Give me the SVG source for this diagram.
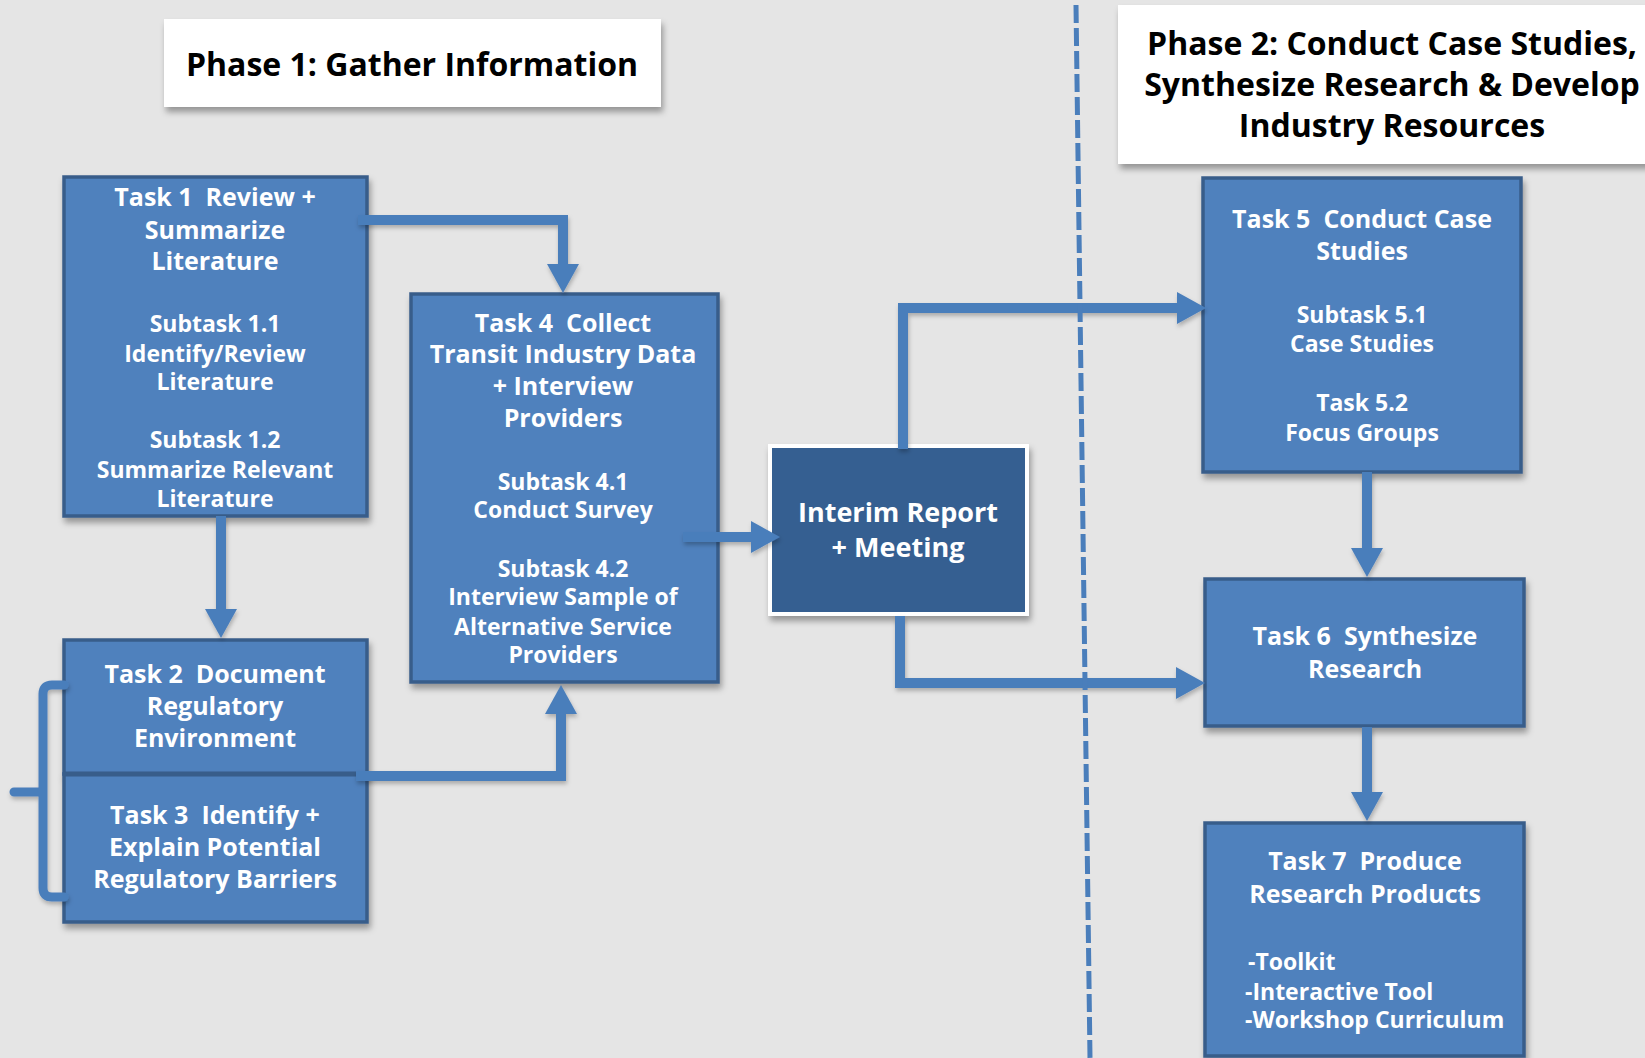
<svg xmlns="http://www.w3.org/2000/svg" width="1645" height="1058" viewBox="0 0 1645 1058">
<style>
.bg{fill:#e5e5e5}
.phase{fill:#ffffff}
.box{fill:#4f81bd;stroke:#385d8a;stroke-width:3.5}
.dark{fill:#365f91;stroke:#ffffff;stroke-width:4}
text{font-family:"Open Sans","Noto Sans","Liberation Sans",sans-serif;font-weight:bold;text-anchor:middle}
.pt{font-size:32px;fill:#000000}
.t{font-size:25px;fill:#ffffff}
.s{font-size:23px;fill:#ffffff}
.big{font-size:27px;fill:#ffffff}
.l{text-anchor:start}
.conn{fill:none;stroke:#4a7ebb;stroke-width:10;stroke-linejoin:miter}
.brace{fill:none;stroke:#4a7ebb;stroke-width:9;stroke-linecap:round;stroke-linejoin:round}
.divider{fill:none;stroke:#4a7ebb;stroke-width:5;stroke-dasharray:18 5}
</style>
<defs>
<filter id="sh" x="-10%" y="-10%" width="130%" height="130%">
<feDropShadow dx="2" dy="5" stdDeviation="3" flood-color="#000000" flood-opacity="0.35"/>
</filter>
<filter id="shl" x="-10%" y="-10%" width="130%" height="130%">
<feDropShadow dx="1" dy="3" stdDeviation="2" flood-color="#000000" flood-opacity="0.25"/>
</filter>
<marker id="ah" markerUnits="userSpaceOnUse" markerWidth="30" markerHeight="32" refX="1" refY="16" orient="auto" overflow="visible">
<path d="M0,0 L29,16 L0,32 Z" fill="#4a7ebb"/>
</marker>
</defs>
<rect class="bg" x="0" y="0" width="1645" height="1058"/>

<g id="phase1">
<rect class="phase" x="164" y="19" width="497" height="88" filter="url(#sh)"/>
<text class="pt" x="412" y="76">Phase 1: Gather Information</text>
</g>

<g id="phase2">
<rect class="phase" x="1118" y="5" width="540" height="159" filter="url(#sh)"/>
<text class="pt" x="1392" y="55">Phase 2: Conduct Case Studies,</text>
<text class="pt" x="1392" y="96">Synthesize Research &amp; Develop</text>
<text class="pt" x="1392" y="137">Industry Resources</text>
</g>

<g id="task1">
<rect class="box" x="64" y="177" width="303" height="339" filter="url(#sh)"/>
<text class="t" x="215" y="206" xml:space="preserve">Task 1  Review +</text>
<text class="t" x="215" y="239">Summarize</text>
<text class="t" x="215" y="270">Literature</text>
<text class="s" x="215" y="332">Subtask 1.1</text>
<text class="s" x="215" y="362">Identify/Review</text>
<text class="s" x="215" y="390">Literature</text>
<text class="s" x="215" y="448">Subtask 1.2</text>
<text class="s" x="215" y="478">Summarize Relevant</text>
<text class="s" x="215" y="507">Literature</text>
</g>

<g id="task2">
<rect class="box" x="64" y="640" width="303" height="134" filter="url(#sh)"/>
<text class="t" x="215" y="683" xml:space="preserve">Task 2  Document</text>
<text class="t" x="215" y="715">Regulatory</text>
<text class="t" x="215" y="747">Environment</text>
</g>

<g id="task3">
<rect class="box" x="64" y="774" width="303" height="148" filter="url(#sh)"/>
<line x1="64" y1="774" x2="367" y2="774" stroke="#385d8a" stroke-width="5"/>
<text class="t" x="215" y="824" xml:space="preserve">Task 3  Identify +</text>
<text class="t" x="215" y="856">Explain Potential</text>
<text class="t" x="215" y="888">Regulatory Barriers</text>
</g>

<g id="task4">
<rect class="box" x="411" y="294" width="307" height="388" filter="url(#sh)"/>
<text class="t" x="563" y="332" xml:space="preserve">Task 4  Collect</text>
<text class="t" x="563" y="363">Transit Industry Data</text>
<text class="t" x="563" y="395">+ Interview</text>
<text class="t" x="563" y="427">Providers</text>
<text class="s" x="563" y="490">Subtask 4.1</text>
<text class="s" x="563" y="518">Conduct Survey</text>
<text class="s" x="563" y="577">Subtask 4.2</text>
<text class="s" x="563" y="605">Interview Sample of</text>
<text class="s" x="563" y="635">Alternative Service</text>
<text class="s" x="563" y="663">Providers</text>
</g>

<g id="interim">
<rect class="dark" x="770" y="446" width="257" height="168" filter="url(#sh)"/>
<text class="big" x="898" y="522">Interim Report</text>
<text class="big" x="898" y="557">+ Meeting</text>
</g>

<g id="task5">
<rect class="box" x="1203" y="178" width="318" height="294" filter="url(#sh)"/>
<text class="t" x="1362" y="228" xml:space="preserve">Task 5  Conduct Case</text>
<text class="t" x="1362" y="260">Studies</text>
<text class="s" x="1362" y="323">Subtask 5.1</text>
<text class="s" x="1362" y="352">Case Studies</text>
<text class="s" x="1362" y="411">Task 5.2</text>
<text class="s" x="1362" y="441">Focus Groups</text>
</g>

<g id="task6">
<rect class="box" x="1205" y="579" width="319" height="147" filter="url(#sh)"/>
<text class="t" x="1365" y="645" xml:space="preserve">Task 6  Synthesize</text>
<text class="t" x="1365" y="678">Research</text>
</g>

<g id="task7">
<rect class="box" x="1205" y="823" width="319" height="233" filter="url(#sh)"/>
<text class="t" x="1365" y="870" xml:space="preserve">Task 7  Produce</text>
<text class="t" x="1365" y="903">Research Products</text>
<text class="s l" x="1248" y="970">-Toolkit</text>
<text class="s l" x="1245" y="1000">-Interactive Tool</text>
<text class="s l" x="1245" y="1028">-Workshop Curriculum</text>
</g>

<g id="connectors" filter="url(#shl)">
<path class="conn" d="M358,220 H563 V265" marker-end="url(#ah)"/>
<path class="conn" d="M221,516 V610" marker-end="url(#ah)"/>
<path class="conn" d="M356,776 H561 V713" marker-end="url(#ah)"/>
<path class="conn" d="M683,537 H752" marker-end="url(#ah)"/>
<path class="conn" d="M903,449 V308 H1178" marker-end="url(#ah)"/>
<path class="conn" d="M900,616 V683 H1177" marker-end="url(#ah)"/>
<path class="conn" d="M1367,472 V549" marker-end="url(#ah)"/>
<path class="conn" d="M1367,727 V793" marker-end="url(#ah)"/>
<path class="brace" d="M64,685 H52 Q43,685 43,694 V888 Q43,897 52,897 H64 M43,792 H14"/>
</g>

<line class="divider" x1="1076" y1="5" x2="1090" y2="1058"/>
</svg>
